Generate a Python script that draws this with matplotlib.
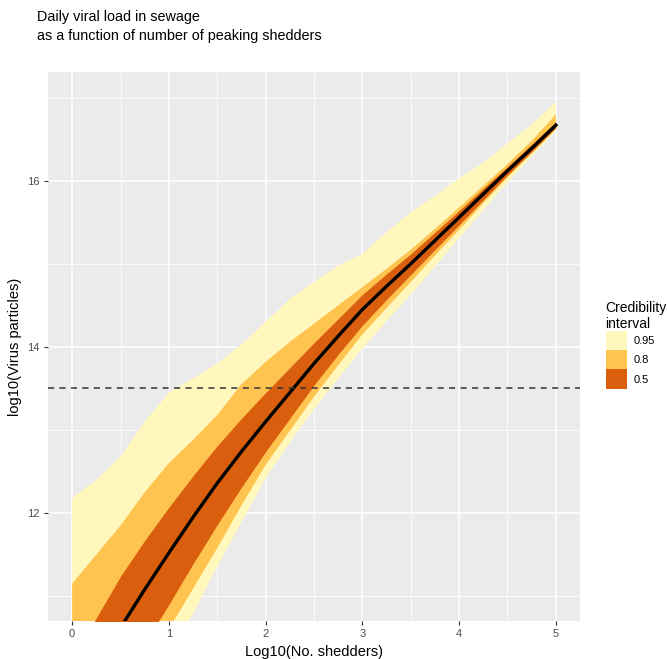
import numpy as np
import matplotlib
matplotlib.use("Agg")
import matplotlib.pyplot as plt

plt.rcParams['font.family'] = ['Liberation Sans', 'DejaVu Sans']

# log10(no. shedders)
x = [0, 0.25, 0.5, 0.75, 1, 1.25, 1.5, 1.75, 2, 2.25, 2.5,
     2.75, 3, 3.25, 3.5, 3.75, 4, 4.25, 4.5, 4.75, 5]

median = [9.55, 10.1, 10.62, 11.08, 11.52, 11.95, 12.36, 12.74, 13.1, 13.45, 13.8,
          14.13, 14.45, 14.73, 15.0, 15.28, 15.56, 15.84, 16.12, 16.39, 16.67]

hi95 = [12.18, 12.4, 12.68, 13.1, 13.45, 13.62, 13.8, 14.03, 14.3, 14.58, 14.78,
        14.98, 15.12, 15.38, 15.62, 15.82, 16.03, 16.22, 16.45, 16.68, 16.95]
lo95 = [8.25, 8.8, 9.34, 9.83, 10.3, 10.79, 11.36, 11.89, 12.42, 12.85, 13.25,
        13.62, 13.98, 14.31, 14.63, 14.97, 15.31, 15.65, 15.98, 16.29, 16.6]

hi80 = [11.15, 11.5, 11.85, 12.25, 12.6, 12.88, 13.18, 13.55, 13.82, 14.06, 14.28,
        14.5, 14.72, 14.94, 15.17, 15.42, 15.68, 15.94, 16.2, 16.48, 16.8]
lo80 = [8.55, 9.1, 9.64, 10.13, 10.6, 11.09, 11.58, 12.09, 12.58, 12.99, 13.4,
        13.78, 14.15, 14.47, 14.78, 15.1, 15.41, 15.73, 16.04, 16.33, 16.62]

hi50 = [10.2, 10.74, 11.24, 11.67, 12.07, 12.45, 12.81, 13.14, 13.45, 13.75, 14.05,
        14.34, 14.63, 14.88, 15.12, 15.38, 15.64, 15.91, 16.17, 16.44, 16.71]
lo50 = [8.83, 9.4, 9.94, 10.43, 10.9, 11.39, 11.86, 12.31, 12.74, 13.14, 13.54,
        13.91, 14.26, 14.57, 14.87, 15.17, 15.47, 15.77, 16.07, 16.35, 16.64]

threshold = 13.5
levels = ["0.95", "0.8", "0.5"]
colors = ["#FFF7BC", "#FEC44F", "#D95F0E"]

# %% figure
fig = plt.figure(figsize=(6.67, 6.59), dpi=100)
W, H = 667, 659
ax = fig.add_axes([48 / W, 1 - 621 / H, (580 - 48) / W, (621 - 72) / H])
ax.set_facecolor("#EBEBEB")

handles = []
for lo, hi, c, lab in zip([lo95, lo80, lo50], [hi95, hi80, hi50], colors, levels):
    h = ax.fill_between(x, lo, hi, color=c, linewidth=0, label=lab, zorder=2)
    handles.append(h)

ax.plot(x, median, color="black", lw=2.4, zorder=3)
ax.axhline(threshold, color="#333333", lw=1.1, ls=(0, (4, 3.5)), zorder=4)

ax.set_xlim(-0.25, 5.25)
ax.set_ylim(10.70, 17.31)
ax.set_xticks([0, 1, 2, 3, 4, 5])
ax.set_xticks([0.5, 1.5, 2.5, 3.5, 4.5], minor=True)
ax.set_yticks([12, 14, 16])
ax.set_yticks([11, 13, 15, 17], minor=True)
ax.grid(which="major", color="white", lw=1.1, zorder=0)
ax.grid(which="minor", color="white", lw=0.55, zorder=0)
ax.set_axisbelow(True)
for s in ax.spines.values():
    s.set_visible(False)
ax.tick_params(which="major", length=3, width=0.8, color="#333333",
               labelcolor="#4D4D4D", labelsize=8, pad=3)
ax.tick_params(which="minor", length=0)

ax.set_xlabel("Log10(No. shedders)", fontsize=10.5, labelpad=4)
ax.set_ylabel("log10(Virus particles)", fontsize=10.5, labelpad=4)

fig.text(37 / W, 1 - 10 / H, "Daily viral load in sewage\nas a function of number of peaking shedders",
         fontsize=10.4, va="top", ha="left", linespacing=1.45)

leg = fig.legend(handles=handles, labels=levels, title="Credibility\ninterval",
                 loc="upper left", bbox_to_anchor=(600 / W, 1 - 295 / H),
                 frameon=False, fontsize=8, title_fontsize=10,
                 handlelength=1.9, handleheight=2.3, labelspacing=0,
                 handletextpad=0.6, borderpad=0, alignment="left")

fig.savefig("out.png", dpi=100)
